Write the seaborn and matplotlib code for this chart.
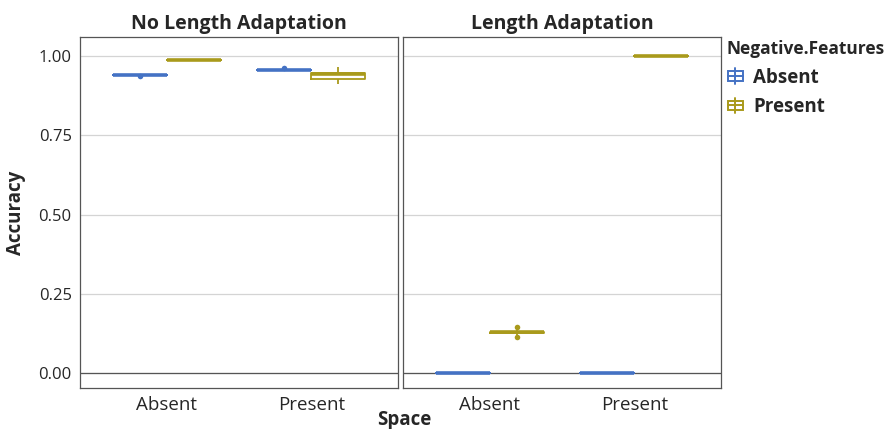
import matplotlib
matplotlib.use("Agg")
import matplotlib.pyplot as plt
import seaborn as sns
import pandas as pd
from matplotlib.patches import Rectangle
from matplotlib.lines import Line2D
from matplotlib.legend_handler import HandlerBase

# ---- data ----
panels = ["No Length Adaptation", "Length Adaptation"]
space_levels = ["Absent", "Present"]
neg_levels = ["Absent", "Present"]

# Accuracy samples per (panel, Space, Negative.Features)
noadapt_abs_abs = [0.940, 0.940, 0.940, 0.940, 0.940, 0.936]
noadapt_abs_pre = [0.986, 0.986, 0.986, 0.986, 0.986, 0.986]
noadapt_pre_abs = [0.955, 0.955, 0.955, 0.955, 0.955, 0.963]
noadapt_pre_pre = [0.913, 0.927, 0.927, 0.944, 0.945, 0.945, 0.965]
adapt_abs_abs = [0.000, 0.000, 0.000, 0.000, 0.000, 0.000]
adapt_abs_pre = [0.128, 0.128, 0.128, 0.128, 0.144, 0.113, 0.120, 0.136]
adapt_pre_abs = [0.000, 0.000, 0.000, 0.000, 0.000, 0.000]
adapt_pre_pre = [1.000, 1.000, 1.000, 1.000, 1.000, 1.000]

yticks = [0.00, 0.25, 0.50, 0.75, 1.00]
ytick_labels = ["0.00", "0.25", "0.50", "0.75", "1.00"]

groups = {
    ("No Length Adaptation", "Absent", "Absent"): noadapt_abs_abs,
    ("No Length Adaptation", "Absent", "Present"): noadapt_abs_pre,
    ("No Length Adaptation", "Present", "Absent"): noadapt_pre_abs,
    ("No Length Adaptation", "Present", "Present"): noadapt_pre_pre,
    ("Length Adaptation", "Absent", "Absent"): adapt_abs_abs,
    ("Length Adaptation", "Absent", "Present"): adapt_abs_pre,
    ("Length Adaptation", "Present", "Absent"): adapt_pre_abs,
    ("Length Adaptation", "Present", "Present"): adapt_pre_pre,
}
rows = []
for (p, s, n), vals in groups.items():
    for v in vals:
        rows.append({"Panel": p, "Space": s, "Negative.Features": n, "Accuracy": v})
df = pd.DataFrame(rows)

palette = {"Absent": "#4472C4", "Present": "#A99A1B"}

sns.set_style("white")
plt.rcParams["font.family"] = ["Open Sans", "DejaVu Sans"]

fig, axes = plt.subplots(1, 2, figsize=(8.95, 4.29), dpi=100, sharey=True)
fig.subplots_adjust(left=0.0894, right=0.8056, top=0.9138, bottom=0.0956, wspace=0.016)

for ax, p in zip(axes, panels):
    sub = df[df["Panel"] == p]
    sns.boxplot(
        data=sub, x="Space", y="Accuracy", hue="Negative.Features",
        order=space_levels, hue_order=neg_levels, palette=palette,
        fill=False, width=0.75, gap=0, linewidth=1.3, whis=1.5, showcaps=False,
        medianprops={"linewidth": 2.6},
        flierprops={"marker": "o", "markersize": 4, "markeredgewidth": 0},
        ax=ax, legend=False,
    )
    # colour the outliers like their boxes
    for cont, n in zip(ax.containers, neg_levels):
        for fl in cont.fliers:
            fl.set_markerfacecolor(palette[n])
            fl.set_markeredgecolor(palette[n])
    ax.set_xlim(-0.6, 1.6)
    ax.set_ylim(-0.047, 1.06)
    ax.set_yticks(yticks)
    ax.set_yticklabels(ytick_labels)
    ax.grid(axis="y", color="#d4d4d4", linewidth=0.9, zorder=0.5)
    ax.set_axisbelow(True)
    ax.axhline(0, color="#555555", linewidth=0.9, zorder=1.5)
    ax.set_title(p, fontsize=14, fontweight="bold", pad=6)
    ax.set_xlabel("")
    ax.set_ylabel("")
    ax.tick_params(axis="x", labelsize=13.5, length=0, pad=6)
    ax.tick_params(axis="y", labelsize=12, length=0, pad=6)
    for sp in ax.spines.values():
        sp.set_visible(True)
        sp.set_color("#555555")
        sp.set_linewidth(0.9)

axes[0].set_ylabel("Accuracy", fontsize=13.5, fontweight="bold", labelpad=9)
fig.text(0.452, -0.002, "Space", ha="center", va="bottom", fontsize=13.5, fontweight="bold")


class BoxHandler(HandlerBase):
    def create_artists(self, legend, orig_handle, xdescent, ydescent, width, height, fontsize, trans):
        c = orig_handle.get_color()
        w = height * 1.15
        x0 = xdescent * -1 + (width - w) / 2
        y0 = -ydescent
        rect = Rectangle((x0, y0 + height * 0.15), w, height * 0.7, fill=False,
                         edgecolor=c, linewidth=1.4, transform=trans)
        med = Line2D([x0, x0 + w], [y0 + height * 0.5] * 2, color=c, linewidth=1.4, transform=trans)
        wh = Line2D([x0 + w / 2] * 2, [y0 - height * 0.1, y0 + height * 1.1], color=c,
                    linewidth=1.4, transform=trans)
        return [wh, rect, med]


handles = [Line2D([], [], color=palette[n]) for n in neg_levels]
leg = fig.legend(handles, neg_levels, title="Negative.Features", loc="upper left",
                 bbox_to_anchor=(0.807, 0.915), frameon=False, handler_map={Line2D: BoxHandler()},
                 handlelength=1.0, handletextpad=0.45, labelspacing=0.5,
                 prop={"weight": "bold", "size": 13.5}, borderaxespad=0, borderpad=0.2)
leg.get_title().set_fontweight("bold")
leg.get_title().set_fontsize(12.5)
leg._legend_box.align = "left"

fig.savefig("out.png", dpi=100)
